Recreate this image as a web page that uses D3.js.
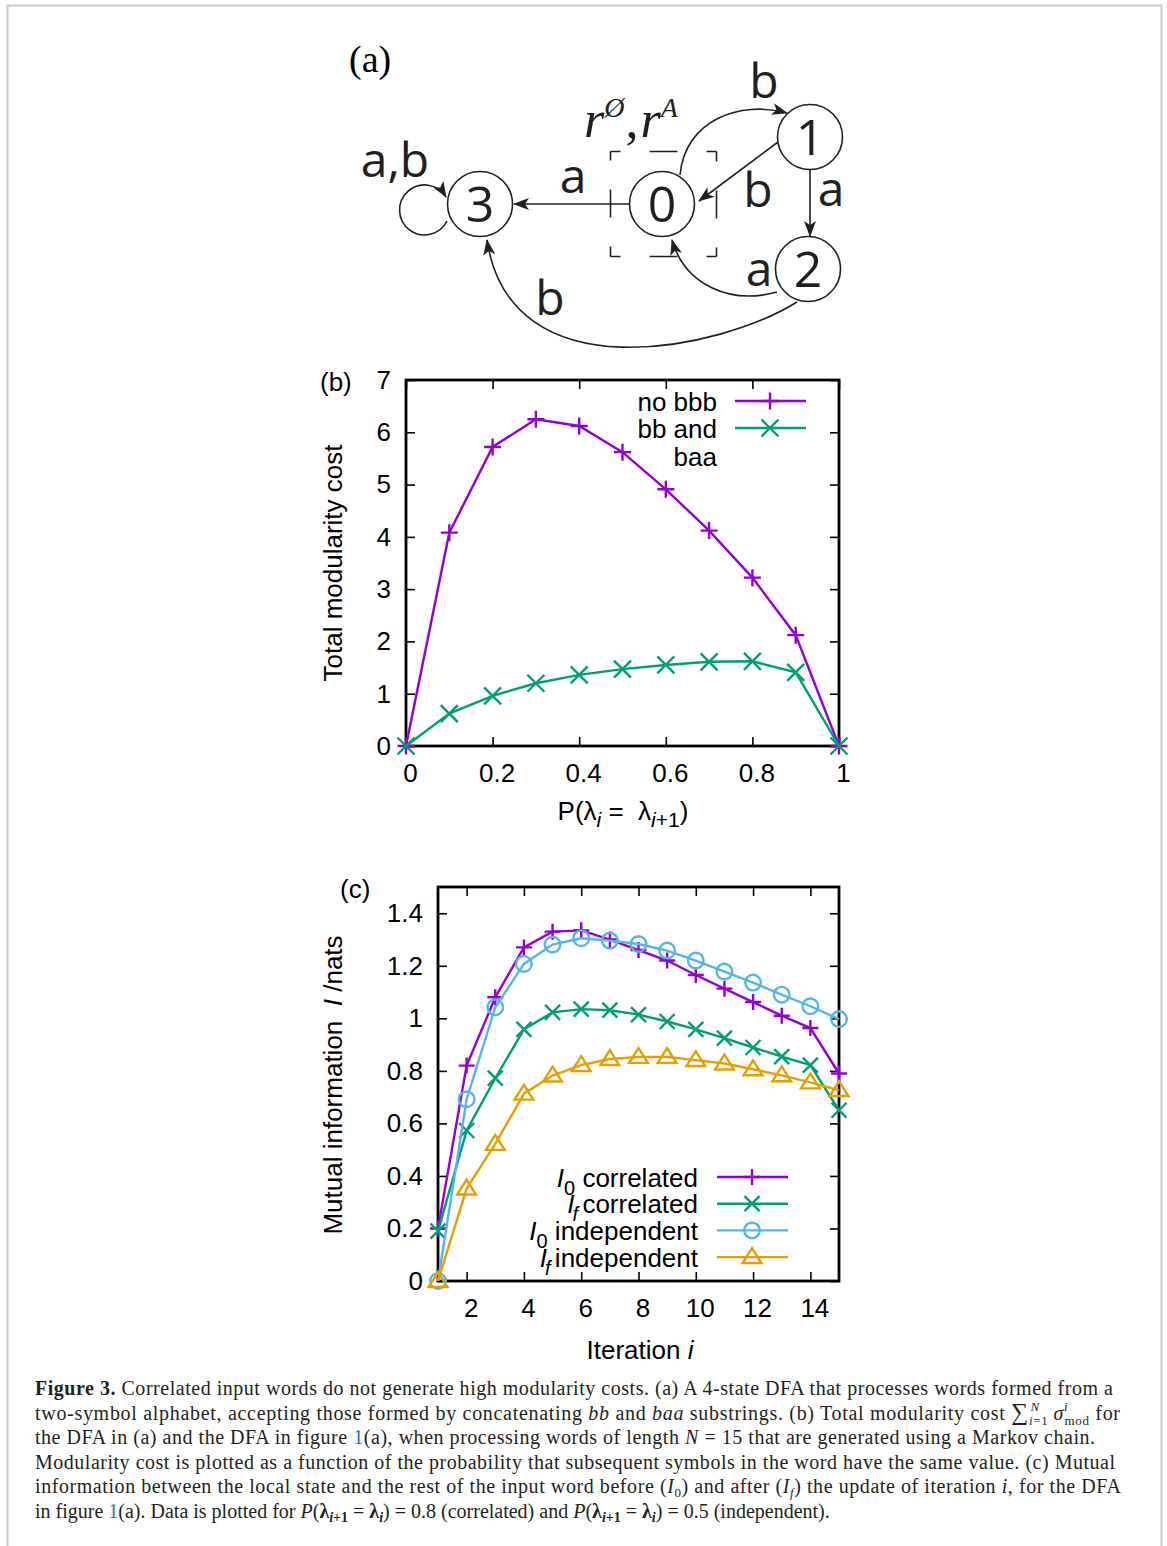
<!DOCTYPE html>
<html><head><meta charset="utf-8">
<script src="https://cdn.jsdelivr.net/npm/d3@7"></script>
<style>body{margin:0;background:#fff} svg{display:block} text{white-space:pre}</style>
</head><body>
<svg id="fig" width="1167" height="1546"></svg>
<script>
// ---------------- DATA ----------------
// Panel (b)
const bX = [0, 0.1, 0.2, 0.3, 0.4, 0.5, 0.6, 0.7, 0.8, 0.9, 1];
const bNoBBB = [0, 4.08, 5.72, 6.25, 6.12, 5.62, 4.91, 4.12, 3.22, 2.12, 0];
const bBBandBAA = [0, 0.62, 0.96, 1.2, 1.36, 1.47, 1.55, 1.61, 1.62, 1.41, 0];
const bXTicks = [0, 0.2, 0.4, 0.6, 0.8, 1];
const bYTicks = [0, 1, 2, 3, 4, 5, 6, 7];
// Panel (c)
const cIter = [1, 2, 3, 4, 5, 6, 7, 8, 9, 10, 11, 12, 13, 14, 15];
const cI0Corr = [0.2, 0.82, 1.08, 1.27, 1.33, 1.335, 1.3, 1.26, 1.22, 1.165, 1.113, 1.062, 1.01, 0.963, 0.79];
const cIfCorr = [0.19, 0.573, 0.772, 0.958, 1.023, 1.035, 1.031, 1.014, 0.988, 0.958, 0.925, 0.889, 0.854, 0.822, 0.65];
const cI0Ind = [0, 0.692, 1.042, 1.207, 1.281, 1.305, 1.296, 1.283, 1.258, 1.22, 1.178, 1.136, 1.09, 1.046, 0.997];
const cIfInd = [0, 0.352, 0.522, 0.713, 0.782, 0.822, 0.845, 0.853, 0.853, 0.841, 0.828, 0.806, 0.783, 0.756, 0.727];
const cXTicks = [2, 4, 6, 8, 10, 12, 14];
const cYTicks = [0, 0.2, 0.4, 0.6, 0.8, 1, 1.2, 1.4];

// ---------------- STYLE ----------------
const SANS = "'Liberation Sans', Arial, Helvetica, sans-serif";
const SERIF = "'Liberation Serif', 'Times New Roman', serif";
const DIA = "'Open Sans', 'Noto Sans', sans-serif";
const PURPLE = "#9400d3", GREEN = "#009e73", BLUE = "#56b4e9", ORANGE = "#e69f00";

const svg = d3.select('#fig');
svg.append('rect').attr('width', 1167).attr('height', 1546).attr('fill', '#fff');
// page frame
svg.append('path').attr('d', 'M7.5,1546 V5.5 H1161.5 V1546')
  .attr('fill', 'none').attr('stroke', '#c8c8c8').attr('stroke-width', 2);

function richText(parent, x, y, segs, base) {
  const t = parent.append('text').attr('x', x).attr('y', y);
  Object.entries(base || {}).forEach(([k, v]) => t.attr(k, v));
  let shift = 0;
  segs.forEach(s => {
    if (typeof s === 'string') s = { t: s };
    const ts = t.append('tspan').text(s.t);
    const target = s.dy || 0;
    if (target !== shift) { ts.attr('dy', target - shift); shift = target; }
    if (s.dx) ts.attr('dx', s.dx);
    if (s.i) ts.attr('font-style', 'italic');
    if (s.b) ts.attr('font-weight', 'bold');
    if (s.fs) ts.attr('font-size', s.fs);
    if (s.fill) ts.attr('fill', s.fill);
    if (s.ff) ts.attr('font-family', s.ff);
  });
  return t;
}

// ---------------- MARKERS ----------------
function drawMarker(g, type, cx, cy, color, s) {
  const st = { stroke: color, 'stroke-width': 2.4, fill: 'none' };
  let el;
  if (type === 'plus') {
    el = g.append('path').attr('d', `M${cx - s},${cy}H${cx + s}M${cx},${cy - s}V${cy + s}`);
  } else if (type === 'cross') {
    el = g.append('path').attr('d', `M${cx - s},${cy - s}L${cx + s},${cy + s}M${cx - s},${cy + s}L${cx + s},${cy - s}`);
  } else if (type === 'circle') {
    el = g.append('circle').attr('cx', cx).attr('cy', cy).attr('r', s);
  } else if (type === 'tri') {
    el = g.append('path').attr('d', `M${cx},${cy - s * 1.05}L${cx + s * 1.1},${cy + s * 0.7}L${cx - s * 1.1},${cy + s * 0.7}Z`);
  }
  Object.entries(st).forEach(([k, v]) => el.attr(k, v));
}

// ---------------- PANEL ----------------
function panel(cfg) {
  const g = svg.append('g');
  const x = d3.scaleLinear().domain(cfg.xDomain).range([cfg.left, cfg.right]);
  const y = d3.scaleLinear().domain(cfg.yDomain).range([cfg.bottom, cfg.top]);
  const fmt = d => String(+d.toFixed(1));
  const ax = [
    g.append('g').attr('transform', `translate(0,${cfg.bottom})`)
      .call(d3.axisBottom(x).tickValues(cfg.xTicks).tickSize(-9).tickPadding(18).tickFormat(fmt)),
    g.append('g').attr('transform', `translate(0,${cfg.top})`)
      .call(d3.axisTop(x).tickValues(cfg.xTicks).tickSize(-9).tickFormat('')),
    g.append('g').attr('transform', `translate(${cfg.left},0)`)
      .call(d3.axisLeft(y).tickValues(cfg.yTicks).tickSize(-9).tickPadding(15).tickFormat(fmt)),
    g.append('g').attr('transform', `translate(${cfg.right},0)`)
      .call(d3.axisRight(y).tickValues(cfg.yTicks).tickSize(-9).tickFormat(''))
  ];
  ax.forEach(a => {
    a.select('.domain').remove();
    a.selectAll('.tick line').attr('stroke', '#000').attr('stroke-width', 1.6);
    a.selectAll('.tick text').attr('font-family', SANS).attr('font-size', 26).attr('fill', '#000');
  });
  ax[0].selectAll('.tick text').attr('dx', 4);
  g.append('rect').attr('x', cfg.left).attr('y', cfg.top)
    .attr('width', cfg.right - cfg.left).attr('height', cfg.bottom - cfg.top)
    .attr('fill', 'none').attr('stroke', '#000').attr('stroke-width', 2.8);
  const line = d3.line().x(d => x(d[0])).y(d => y(d[1]));
  cfg.series.forEach(s => {
    const pts = cfg.xs.map((xv, i) => [xv, s.values[i]]);
    g.append('path').attr('d', line(pts)).attr('fill', 'none')
      .attr('stroke', s.color).attr('stroke-width', 2.4);
    pts.forEach(p => drawMarker(g, s.marker, x(p[0]), y(p[1]), s.color, s.size));
  });
  return { g, x, y };
}

// ---------------- PANEL (b) ----------------
const pb = panel({
  left: 406, right: 839, top: 380, bottom: 746,
  xDomain: [0, 1], yDomain: [0, 7], xTicks: bXTicks, yTicks: bYTicks, xs: bX,
  series: [
    { values: bNoBBB, color: PURPLE, marker: 'plus', size: 8.5 },
    { values: bBBandBAA, color: GREEN, marker: 'cross', size: 8.5 }
  ]
});
svg.append('text').attr('x', 320).attr('y', 391).attr('font-family', SANS).attr('font-size', 26).text('(b)');
svg.append('text').attr('transform', 'translate(342,563) rotate(-90)').attr('text-anchor', 'middle')
  .attr('font-family', SANS).attr('font-size', 26).text('Total modularity cost');
richText(svg, 623, 820, [
  'P(λ', { t: 'i', i: 1, fs: 21, dy: 7 }, { t: ' =  λ', dy: 0 },
  { t: 'i', i: 1, fs: 21, dy: 7 }, { t: '+1', fs: 21, dy: 7 }, { t: ')', dy: 0 }
], { 'font-family': SANS, 'font-size': 26, 'text-anchor': 'middle' });
// legend (b)
const legB = [
  { color: PURPLE, marker: 'plus' },
  { color: GREEN, marker: 'cross' }
];
const legBText = ['no bbb', 'bb and', 'baa'];
legBText.forEach((t, i) => {
  svg.append('text').attr('x', 717).attr('y', 401 + i * 27.5 + 9.5).attr('text-anchor', 'end')
    .attr('font-family', SANS).attr('font-size', 26).text(t);
});
legB.forEach((e, i) => {
  const cy = 401 + i * 27;
  svg.append('line').attr('x1', 735).attr('x2', 806).attr('y1', cy).attr('y2', cy)
    .attr('stroke', e.color).attr('stroke-width', 2.4);
  drawMarker(svg, e.marker, 770, cy, e.color, 8.5);
});

// ---------------- PANEL (c) ----------------
const pc = panel({
  left: 438, right: 839, top: 887, bottom: 1281,
  xDomain: [1, 15], yDomain: [0, 1.5], xTicks: cXTicks, yTicks: cYTicks, xs: cIter,
  series: [
    { values: cI0Corr, color: PURPLE, marker: 'plus', size: 8 },
    { values: cIfCorr, color: GREEN, marker: 'cross', size: 7.5 },
    { values: cI0Ind, color: BLUE, marker: 'circle', size: 7.8 },
    { values: cIfInd, color: ORANGE, marker: 'tri', size: 8.5 }
  ]
});
svg.append('text').attr('x', 340).attr('y', 898).attr('font-family', SANS).attr('font-size', 26).text('(c)');
richText(svg, 0, 0, ['Mutual information  ', { t: 'I', i: 1 }, ' /nats'],
  { 'font-family': SANS, 'font-size': 26, 'text-anchor': 'middle', transform: 'translate(342,1085) rotate(-90)' });
richText(svg, 640, 1359, ['Iteration ', { t: 'i', i: 1 }],
  { 'font-family': SANS, 'font-size': 26, 'text-anchor': 'middle' });
// legend (c)
const legC = [
  { sub: '0', subI: false, label: ' correlated', color: PURPLE, marker: 'plus', size: 8 },
  { sub: 'f', subI: true, label: ' correlated', color: GREEN, marker: 'cross', size: 7.5 },
  { sub: '0', subI: false, label: ' independent', color: BLUE, marker: 'circle', size: 7.8 },
  { sub: 'f', subI: true, label: ' independent', color: ORANGE, marker: 'tri', size: 8.5 }
];
legC.forEach((e, i) => {
  const cy = 1177 + i * 26.7;
  richText(svg, 698, cy + 9.5, [{ t: 'I', i: 1 }, { t: e.sub, i: e.subI ? 1 : 0, fs: 20, dy: 8, dx: e.subI ? -2 : 0 },
    { t: e.label, dy: 0, dx: e.subI ? -3 : 0 }],
    { 'font-family': SANS, 'font-size': 26, 'text-anchor': 'end' });
  svg.append('line').attr('x1', 717).attr('x2', 788).attr('y1', cy).attr('y2', cy)
    .attr('stroke', e.color).attr('stroke-width', 2.4);
  drawMarker(svg, e.marker, 752, cy, e.color, e.size);
});

// ---------------- DIAGRAM (a) ----------------
const nodes = [
  { id: '0', x: 662, y: 204 }, { id: '1', x: 810, y: 137 },
  { id: '2', x: 808, y: 269 }, { id: '3', x: 480, y: 204 }
];
const edges = [
  'M629,204 L514,204',
  'M680,175 C685,120 740,100 787,113',
  'M778,142 L699,201',
  'M810,170 L810,236',
  'M777,292 C730,305 685,285 672,240',
  'M797,302 C720,350 510,395 487,240',
  'M447,221 A25,25 0 1 1 446,197'
];
const edgeLabels = [
  { t: 'a,b', x: 395, y: 177 }, { t: 'a', x: 573, y: 193 }, { t: 'b', x: 764, y: 98 },
  { t: 'b', x: 758, y: 207 }, { t: 'a', x: 831, y: 206 }, { t: 'a', x: 759, y: 286 },
  { t: 'b', x: 550, y: 315 }
];
const da = svg.append('g');
da.append('defs').append('marker').attr('id', 'arr').attr('viewBox', '0 -6 16 12')
  .attr('refX', 15).attr('refY', 0).attr('markerWidth', 16).attr('markerHeight', 12)
  .attr('markerUnits', 'userSpaceOnUse').attr('orient', 'auto')
  .append('path').attr('d', 'M0,-6 L16,0 L0,6 L4,0 Z').attr('fill', '#231f20');
// dashed square
const sq = { x0: 610.5, x1: 716.5, y0: 151.5, y1: 256.5 };
[[sq.x0, sq.y0, sq.x1, sq.y0], [sq.x1, sq.y0, sq.x1, sq.y1], [sq.x1, sq.y1, sq.x0, sq.y1], [sq.x0, sq.y1, sq.x0, sq.y0]]
  .forEach(([a, b, c, d]) => da.append('line').attr('x1', a).attr('y1', b).attr('x2', c).attr('y2', d)
    .attr('stroke', '#231f20').attr('stroke-width', 1.6).attr('stroke-dasharray', '10 29 28 29 10'));
edges.forEach(p => da.append('path').attr('d', p).attr('fill', 'none').attr('stroke', '#231f20')
  .attr('stroke-width', 1.6).attr('marker-end', 'url(#arr)'));
nodes.forEach(n => {
  da.append('circle').attr('cx', n.x).attr('cy', n.y).attr('r', 32.5).attr('fill', '#fff')
    .attr('stroke', '#231f20').attr('stroke-width', 1.6);
  da.append('text').attr('x', n.x).attr('y', n.y + 18).attr('text-anchor', 'middle')
    .attr('font-family', DIA).attr('font-size', 50).attr('fill', '#231f20').text(n.id);
});
edgeLabels.forEach(l => da.append('text').attr('x', l.x).attr('y', l.y).attr('text-anchor', 'middle')
  .attr('font-family', DIA).attr('font-size', 48).attr('fill', '#231f20').text(l.t));
da.append('text').attr('x', 349).attr('y', 72).attr('font-family', SERIF).attr('font-size', 38).text('(a)');
richText(da, 584, 137, [
  { t: 'r', i: 1 }, { t: 'Ø', i: 1, fs: 28, dy: -20 }, { t: ',', dy: 0, dx: 1 }, { t: 'r', i: 1, dx: 2 },
  { t: 'A', i: 1, fs: 28, dy: -20 }
], { 'font-family': SERIF, 'font-size': 52, fill: '#231f20' });

// ---------------- CAPTION ----------------
const capLines = [
  { w: 1078, segs: [{ t: 'Figure 3.', b: 1 }, ' Correlated input words do not generate high modularity costs. (a) A 4-state DFA that processes words formed from a'] },
  { w: 1085, segs: ['two-symbol alphabet, accepting those formed by concatenating ', { t: 'bb', i: 1 }, ' and ', { t: 'baa', i: 1 },
    ' substrings. (b) Total modularity cost ', { t: '∑', fs: 24 }, { t: 'i', i: 1, fs: 13, dy: 5 }, { t: '=1', fs: 13, dy: 5 },
    { t: 'N', i: 1, fs: 13, dy: -9, dx: -18 }, { t: ' ', dy: 0, dx: 8 }, { t: 'σ', i: 1 }, { t: 'i', i: 1, fs: 13, dy: -9 },
    { t: 'mod', fs: 13, dy: 5, dx: -4 }, { t: ' for', dy: 0 }] },
  { w: 1060, segs: ['the DFA in (a) and the DFA in figure ', { t: '1', fill: '#1a75bc' }, '(a), when processing words of length ', { t: 'N', i: 1 },
    ' = 15 that are generated using a Markov chain.'] },
  { w: 1080, segs: ['Modularity cost is plotted as a function of the probability that subsequent symbols in the word have the same value. (c) Mutual'] },
  { w: 1086, segs: ['information between the local state and the rest of the input word before (', { t: 'I', i: 1 }, { t: '0', fs: 13, dy: 4 },
    { t: ') and after (', dy: 0 }, { t: 'I', i: 1 }, { t: 'f', i: 1, fs: 13, dy: 4 }, { t: ') the update of iteration ', dy: 0 }, { t: 'i', i: 1 }, ', for the DFA'] },
  { w: null, segs: ['in figure ', { t: '1', fill: '#1a75bc' }, '(a). Data is plotted for ', { t: 'P', i: 1 }, '(', { t: 'λ', b: 1 },
    { t: 'i', b: 1, i: 1, fs: 14, dy: 4 }, { t: '+1', b: 1, fs: 14, dy: 4 }, { t: ' = ', dy: 0 }, { t: 'λ', b: 1 }, { t: 'i', b: 1, i: 1, fs: 14, dy: 4 },
    { t: ') = 0.8 (correlated) and ', dy: 0 }, { t: 'P', i: 1 }, '(', { t: 'λ', b: 1 },
    { t: 'i', b: 1, i: 1, fs: 14, dy: 4 }, { t: '+1', b: 1, fs: 14, dy: 4 }, { t: ' = ', dy: 0 }, { t: 'λ', b: 1 }, { t: 'i', b: 1, i: 1, fs: 14, dy: 4 },
    { t: ') = 0.5 (independent).', dy: 0 }] }
];
capLines.forEach((l, i) => {
  const t = richText(svg, 35, 1395 + i * 24.6, l.segs, { 'font-family': SERIF, 'font-size': 20, fill: '#231f20' });
  if (l.w) t.attr('textLength', l.w).attr('lengthAdjust', 'spacing');
});
</script>
</body></html>
